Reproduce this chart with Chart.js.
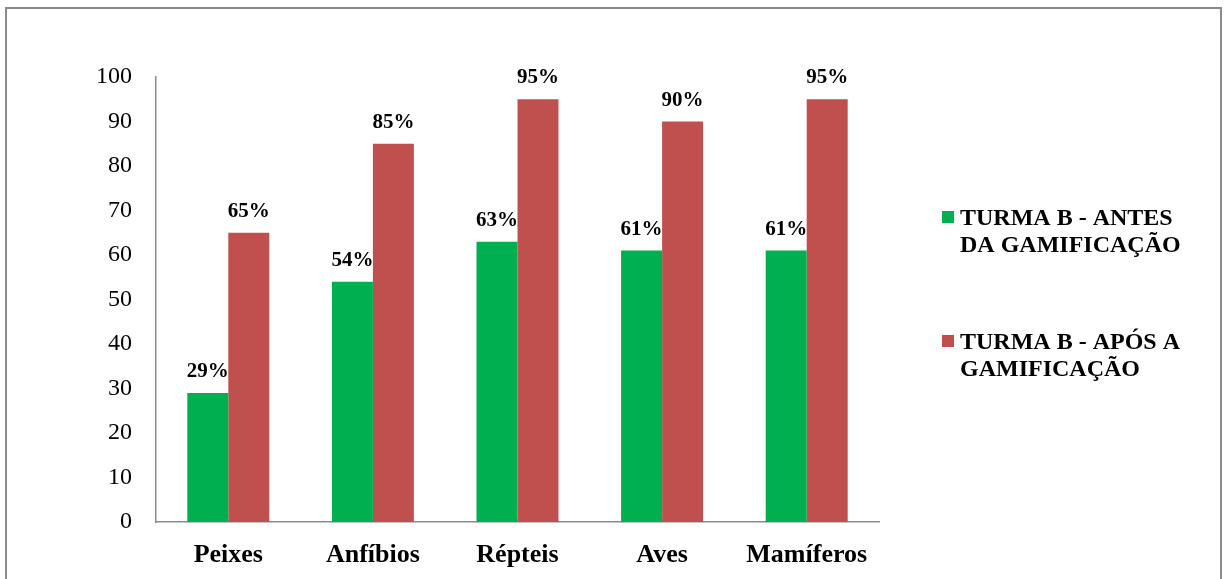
<!DOCTYPE html>
<html>
<head>
<meta charset="utf-8">
<script src="https://cdn.jsdelivr.net/npm/chart.js@4.4.1/dist/chart.umd.min.js"></script>
<style>
  html, body { margin: 0; padding: 0; background: #ffffff; }
  #wrap { position: relative; width: 1225px; height: 579px; overflow: hidden; }
  #frame { position: absolute; left: 5px; top: 7px; width: 1217px; height: 640px;
           box-sizing: border-box; border: 2px solid #8a8a8a; }
  #chart { position: absolute; left: 0; top: 0; }
</style>
</head>
<body>
<div id="wrap">
  <div id="frame"></div>
  <canvas id="chart" width="1225" height="579"></canvas>
</div>
<script>
// Animal groups on the x axis
const categories = ['Peixes', 'Anfíbios', 'Répteis', 'Aves', 'Mamíferos'];
// Percentage of correct answers, class B, before and after gamification
const antesValues = [29, 54, 63, 61, 61];
const aposValues = [65, 85, 95, 90, 95];
// Legend text, one entry per line
const antesName = ['TURMA B - ANTES', 'DA GAMIFICAÇÃO'];
const aposName = ['TURMA B - APÓS A', 'GAMIFICAÇÃO'];
// Y axis range
const yMin = 0, yMax = 100, yStep = 10;

const SERIF = '"Liberation Serif", "Times New Roman", serif';
const GREEN = '#00B050';
const RED = '#C0504D';
const AXIS = '#8c8c8c';

// Percent labels above each bar
const valueLabels = {
  id: 'valueLabels',
  afterDatasetsDraw(chart) {
    const ctx = chart.ctx;
    ctx.save();
    ctx.font = 'bold 21px ' + SERIF;
    ctx.fillStyle = '#000';
    ctx.textAlign = 'center';
    ctx.textBaseline = 'alphabetic';
    chart.data.datasets.forEach((ds, i) => {
      chart.getDatasetMeta(i).data.forEach((bar, j) => {
        ctx.fillText(ds.data[j] + '%', bar.x, bar.y - 16);
      });
    });
    ctx.restore();
  }
};

// Two-line legend to the right of the plot
const sideLegend = {
  id: 'sideLegend',
  afterDraw(chart) {
    const ctx = chart.ctx;
    const x0 = chart.chartArea.right + 63;
    const y0 = 225;
    const itemGap = 124;
    const lineGap = 27;
    ctx.save();
    ctx.font = 'bold 24px ' + SERIF;
    ctx.fillStyle = '#000';
    ctx.textAlign = 'left';
    ctx.textBaseline = 'alphabetic';
    chart.data.datasets.forEach((ds, i) => {
      const base = y0 + i * itemGap;
      ctx.fillStyle = ds.backgroundColor;
      ctx.fillRect(x0, base - 14, 12, 12);
      ctx.fillStyle = '#000';
      ds.legendLines.forEach((line, k) => {
        ctx.fillText(line, x0 + 18, base + k * lineGap);
      });
    });
    ctx.restore();
  }
};

new Chart(document.getElementById('chart'), {
  type: 'bar',
  data: {
    labels: categories,
    datasets: [
      { label: antesName.join(' '), legendLines: antesName, data: antesValues,
        backgroundColor: GREEN, borderWidth: 0 },
      { label: aposName.join(' '), legendLines: aposName, data: aposValues,
        backgroundColor: RED, borderWidth: 0 }
    ]
  },
  options: {
    responsive: false,
    animation: false,
    devicePixelRatio: 1,
    categoryPercentage: 0.567,
    barPercentage: 1.0,
    layout: { padding: { left: 96, right: 346, top: 77, bottom: 0 } },
    plugins: {
      legend: { display: false },
      tooltip: { enabled: false },
      title: { display: false }
    },
    scales: {
      x: {
        grid: { display: false, drawTicks: false },
        border: { display: true, color: AXIS, width: 1.5 },
        ticks: { color: '#000', font: { family: SERIF, size: 26, weight: 'bold' }, padding: 18 },
        afterFit(scale) { scale.height = 57; }
      },
      y: {
        min: yMin, max: yMax,
        grid: { display: false, drawTicks: false },
        border: { display: true, color: AXIS, width: 1.5 },
        ticks: { stepSize: yStep, color: '#000', font: { family: SERIF, size: 24 }, padding: 24 },
        afterFit(scale) { scale.width = 60; }
      }
    }
  },
  plugins: [valueLabels, sideLegend]
});
</script>
</body>
</html>
